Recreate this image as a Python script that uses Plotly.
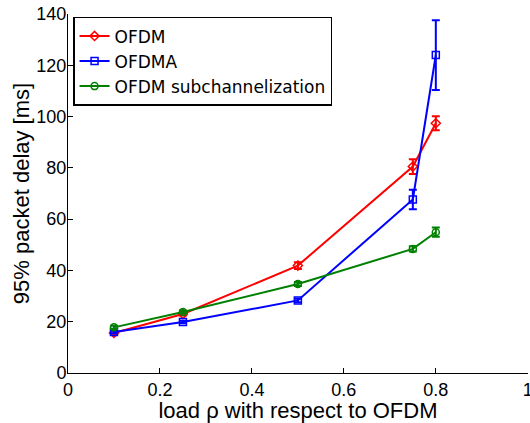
import plotly.graph_objects as go

load = [0.1, 0.25, 0.5, 0.75, 0.8]

ofdm = [15.6, 23.0, 41.9, 80.5, 97.4]
ofdm_err = [0.6, 0.6, 1.3, 2.9, 2.7]

ofdma = [16.0, 19.9, 28.3, 67.7, 124.0]
ofdma_err = [0.5, 0.5, 0.7, 3.8, 13.6]

subch = [17.8, 23.8, 34.7, 48.4, 54.9]
subch_err = [0.6, 0.6, 0.8, 1.0, 1.8]

names = ["OFDM", "OFDMA", "OFDM subchannelization"]
colors = ["#ff0000", "#0000ff", "#008000"]
symbols = ["diamond-open", "square-open", "circle-open"]

FONT = "Liberation Sans, Arial, sans-serif"

fig = go.Figure()
for name, y, e, c, s in zip(names, [ofdm, ofdma, subch], [ofdm_err, ofdma_err, subch_err], colors, symbols):
    fig.add_trace(go.Scatter(
        x=load, y=y, name=name, mode="lines+markers",
        line=dict(color=c, width=2),
        marker=dict(symbol=s, size=7, color=c, line=dict(color=c, width=1.5)),
        error_y=dict(type="data", array=e, visible=True, color=c, thickness=2, width=4),
    ))

fig.update_layout(
    width=530, height=423,
    margin=dict(l=68, r=2, t=14, b=50, autoexpand=False),
    paper_bgcolor="white", plot_bgcolor="white",
    font=dict(family=FONT, size=18, color="black"),
    showlegend=True,
    legend=dict(x=0.011, y=0.992, xanchor="left", yanchor="top",
                bgcolor="white", bordercolor="black", borderwidth=1.5,
                font=dict(family="DejaVu Sans, sans-serif", size=17, color="black"),
                tracegroupgap=0, itemwidth=30),
)
fig.update_xaxes(range=[0, 1.0005], tickvals=[0, 0.2, 0.4, 0.6, 0.8, 1],
                 ticktext=["0", "0.2", "0.4", "0.6", "0.8", "1"],
                 ticklabeloverflow="allow", automargin=False,
                 showline=True, linecolor="black", linewidth=1,
                 ticks="inside", ticklen=5, tickcolor="black",
                 showgrid=False, zeroline=False,
                 title=dict(text="load ρ with respect to OFDM", standoff=0))
fig.update_yaxes(range=[0, 140], tickvals=[0, 20, 40, 60, 80, 100, 120, 140],
                 automargin=False, ticklabelstandoff=-3,
                 showline=True, linecolor="black", linewidth=1,
                 ticks="inside", ticklen=5, tickcolor="black",
                 showgrid=False, zeroline=False,
                 title=dict(text="95% packet delay [ms]", standoff=0))

fig.write_html("out.html")
